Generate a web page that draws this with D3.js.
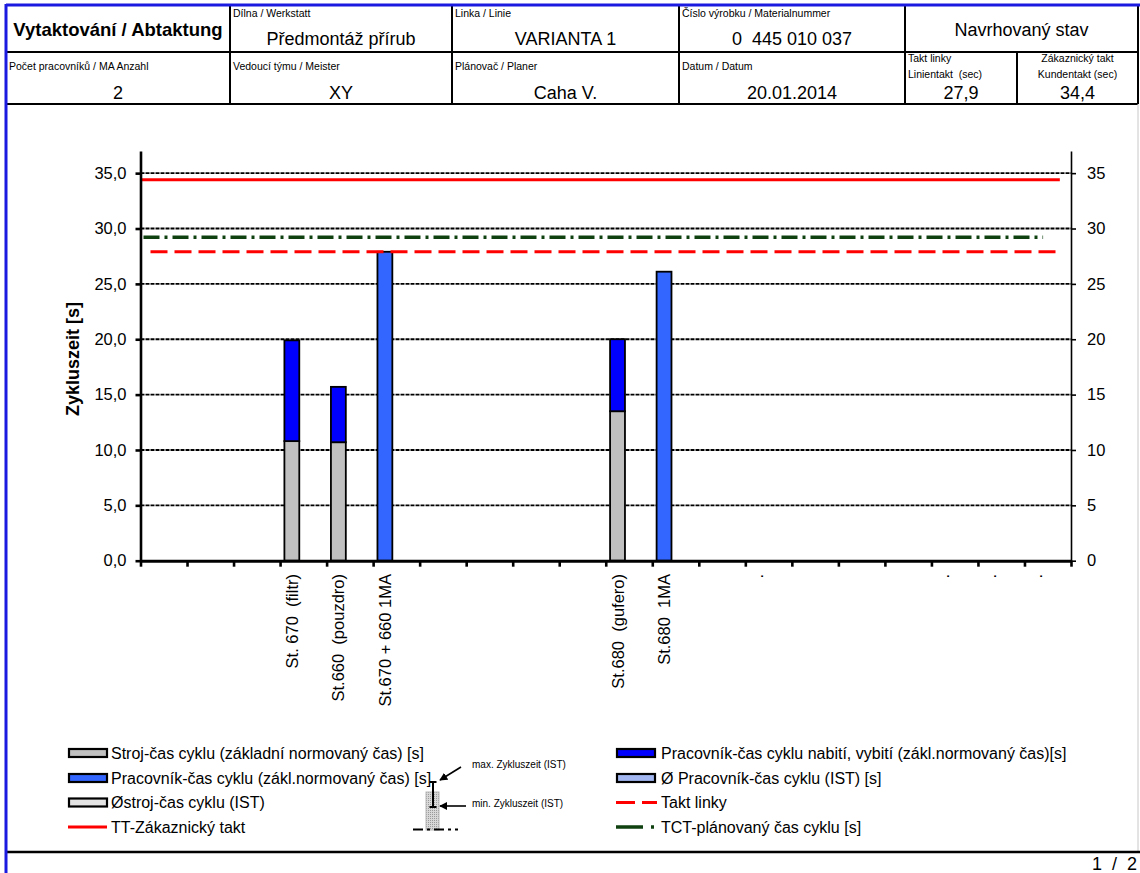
<!DOCTYPE html>
<html><head><meta charset="utf-8">
<script src="https://cdn.jsdelivr.net/npm/d3@7"></script>
<style>
body{margin:0;background:#fff;}
svg{display:block;font-family:"Liberation Sans",Arial,sans-serif;}
text{white-space:pre;}
</style></head><body>
<svg id="c" width="1140" height="873"></svg>
<script>
// ---------- data ----------
const categories = ["", "", "", "St. 670  (filtr)", "St.660  (pouzdro)", "St.670 + 660 1MA", "", "", "", "",
                    "St.680  (gufero)", "St.680  1MA", "", ".", "", "", "", ".", ".", "."];
const machineTime  = [0,0,0,10.8,10.7,0,0,0,0,0,13.5,0,0,0,0,0,0,0,0,0];   // grey
const handlingTime = [0,0,0,9.1,5.0,0,0,0,0,0,6.5,0,0,0,0,0,0,0,0,0];      // pure blue, stacked on grey
const workerTime   = [0,0,0,0,0,27.9,0,0,0,0,0,26.1,0,0,0,0,0,0,0,0];      // blue
const customerTakt = 34.4;
const lineTakt = 27.9;
const plannedCycle = 29.2;
const yTicks = [0,5,10,15,20,25,30,35];
const yMax = 37;

const headerRow1Labels = ["", "Dílna / Werkstatt", "Linka / Linie", "Číslo výrobku / Materialnummer"];
const headerRow1Values = ["Vytaktování / Abtaktung", "Předmontáž přírub", "VARIANTA 1", "0  445 010 037", "Navrhovaný stav"];
const headerRow2Labels = ["Počet pracovníků / MA Anzahl", "Vedoucí týmu / Meister", "Plánovač / Planer", "Datum / Datum"];
const headerRow2Values = ["2", "XY", "Caha V.", "20.01.2014"];
const taktLabels = [["Takt linky", "Linientakt  (sec)"], ["Zákaznický takt", "Kundentakt (sec)"]];
const taktValues = ["27,9", "34,4"];

const legendLeft = [
  {type:"bar", fill:"#C0C0C0", text:"Stroj-čas cyklu (základní normovaný čas) [s]"},
  {type:"bar", fill:"#3366FF", text:"Pracovník-čas cyklu (zákl.normovaný čas) [s]"},
  {type:"bar", fill:"#E4E4E4", text:"Østroj-čas cyklu (IST)"},
  {type:"line", stroke:"#FF0000", text:"TT-Zákaznický takt"}
];
const legendRight = [
  {type:"bar", fill:"#0000FF", text:"Pracovník-čas cyklu nabití, vybití (zákl.normovaný čas)[s]"},
  {type:"bar", fill:"#A3B8F2", text:"Ø Pracovník-čas cyklu (IST) [s]"},
  {type:"dash", stroke:"#FF0000", text:"Takt linky"},
  {type:"dashdot", stroke:"#0F4010", text:"TCT-plánovaný čas cyklu [s]"}
];

// ---------- layout ----------
const svg = d3.select("#c");
const F = "'Liberation Sans', Arial, sans-serif";

// header
const colX = [6, 230, 452, 679, 905, 1017, 1138];
const rowY = [5, 52, 104];
const g = svg.append("g");
g.append("line").attr("x1",6).attr("x2",1138).attr("y1",rowY[1]).attr("y2",rowY[1]).attr("stroke","#000").attr("stroke-width",2);
g.append("line").attr("x1",6).attr("x2",1138).attr("y1",rowY[2]).attr("y2",rowY[2]).attr("stroke","#000").attr("stroke-width",2);
[1,2,3,4,6].forEach(i=>{
  g.append("line").attr("x1",colX[i]).attr("x2",colX[i]).attr("y1",rowY[0]).attr("y2",rowY[2]).attr("stroke","#000").attr("stroke-width",2);
});
g.append("line").attr("x1",colX[5]).attr("x2",colX[5]).attr("y1",rowY[1]).attr("y2",rowY[2]).attr("stroke","#000").attr("stroke-width",2);

g.append("text").attr("x",(colX[0]+colX[1])/2).attr("y",36).attr("text-anchor","middle")
  .attr("font-size",18.5).attr("font-weight","bold").text(headerRow1Values[0]);
for(let i=1;i<=3;i++){
  g.append("text").attr("x",colX[i]+3).attr("y",17).attr("font-size",10.5).text(headerRow1Labels[i]);
  g.append("text").attr("x",(colX[i]+colX[i+1])/2).attr("y",45).attr("text-anchor","middle")
    .attr("font-size",18).text(headerRow1Values[i]);
}
g.append("text").attr("x",(colX[4]+colX[6])/2).attr("y",36).attr("text-anchor","middle")
  .attr("font-size",18).text(headerRow1Values[4]);
for(let i=0;i<=3;i++){
  g.append("text").attr("x",colX[i]+3).attr("y",70).attr("font-size",10.5).text(headerRow2Labels[i]);
  g.append("text").attr("x",(colX[i]+colX[i+1])/2).attr("y",99).attr("text-anchor","middle")
    .attr("font-size",18).text(headerRow2Values[i]);
}
g.append("text").attr("x",colX[4]+3).attr("y",62).attr("font-size",10.5).text(taktLabels[0][0]);
g.append("text").attr("x",colX[4]+3).attr("y",78).attr("font-size",10.5).text(taktLabels[0][1]);
g.append("text").attr("x",(colX[5]+colX[6])/2).attr("y",62).attr("font-size",10.5).attr("text-anchor","middle").text(taktLabels[1][0]);
g.append("text").attr("x",(colX[5]+colX[6])/2).attr("y",78).attr("font-size",10.5).attr("text-anchor","middle").text(taktLabels[1][1]);
g.append("text").attr("x",(colX[4]+colX[5])/2).attr("y",99).attr("text-anchor","middle").attr("font-size",18).text(taktValues[0]);
g.append("text").attr("x",(colX[5]+colX[6])/2).attr("y",99).attr("text-anchor","middle").attr("font-size",18).text(taktValues[1]);

// page frame
svg.append("line").attr("x1",1138).attr("x2",1138).attr("y1",104).attr("y2",852).attr("stroke","#C8C8C8").attr("stroke-width",1);
svg.append("line").attr("x1",6).attr("x2",1140).attr("y1",852).attr("y2",852).attr("stroke","#000").attr("stroke-width",2.5);
svg.append("line").attr("x1",6).attr("x2",1140).attr("y1",5).attr("y2",5).attr("stroke","#1A1AE0").attr("stroke-width",3);
svg.append("line").attr("x1",6).attr("x2",6).attr("y1",4).attr("y2",873).attr("stroke","#1A1AE0").attr("stroke-width",3);
svg.append("text").attr("x",1137).attr("y",870).attr("text-anchor","end").attr("font-size",18).text("1  /  2");

// ---------- chart ----------
const left = 140.5, right = 1071, y0 = 560.7, yTop = 151;
const x = d3.scaleBand().domain(d3.range(categories.length)).range([left,right]).paddingInner(0).paddingOuter(0);
const xLin = d3.scaleLinear().domain([0,categories.length]).range([left,right]);
const y = d3.scaleLinear().domain([0,yMax]).range([y0,yTop]);
const bw = x.bandwidth();
const chart = svg.append("g");

// gridlines
chart.selectAll(".grid").data(yTicks.filter(d=>d>0)).enter().append("line")
  .attr("x1",left).attr("x2",right).attr("y1",d=>y(d)).attr("y2",d=>y(d))
  .attr("stroke","#000").attr("stroke-width",1.9).attr("stroke-dasharray","4,1");

// bars
const barX = i => x(i) + bw*0.093;
const barW = bw*0.32;
chart.selectAll(".m").data(machineTime.map((v,i)=>({v,i})).filter(d=>d.v>0)).enter().append("rect")
  .attr("x",d=>barX(d.i)).attr("width",barW).attr("y",d=>y(d.v)).attr("height",d=>y(0)-y(d.v))
  .attr("fill","#C0C0C0").attr("stroke","#000").attr("stroke-width",1.8);
chart.selectAll(".h").data(handlingTime.map((v,i)=>({v,i,b:machineTime[i]})).filter(d=>d.v>0)).enter().append("rect")
  .attr("x",d=>barX(d.i)).attr("width",barW).attr("y",d=>y(d.b+d.v)).attr("height",d=>y(d.b)-y(d.b+d.v))
  .attr("fill","#0000FF").attr("stroke","#000").attr("stroke-width",1.8);
chart.selectAll(".w").data(workerTime.map((v,i)=>({v,i})).filter(d=>d.v>0)).enter().append("rect")
  .attr("x",d=>barX(d.i)).attr("width",barW).attr("y",d=>y(d.v)).attr("height",d=>y(0)-y(d.v))
  .attr("fill","#3366FF").attr("stroke","#000").attr("stroke-width",1.8);

// reference lines
chart.append("line").attr("x1",left+1).attr("x2",xLin(categories.length-0.24))
  .attr("y1",y(customerTakt)).attr("y2",y(customerTakt)).attr("stroke","#FF0000").attr("stroke-width",3);
chart.append("line").attr("x1",left+3).attr("x2",xLin(categories.length-0.6))
  .attr("y1",y(plannedCycle)).attr("y2",y(plannedCycle)).attr("stroke","#0F4010").attr("stroke-width",3.5)
  .attr("stroke-dasharray","16,5,3,5");
chart.append("line").attr("x1",left+10).attr("x2",xLin(categories.length-0.24))
  .attr("y1",y(lineTakt)).attr("y2",y(lineTakt)).attr("stroke","#FF0000").attr("stroke-width",3)
  .attr("stroke-dasharray","17,7");

// axes
const fmtL = d => d3.format(".1f")(d).replace(".", ",");
const axL = chart.append("g").attr("transform",`translate(${left},0)`)
  .call(d3.axisLeft(y).tickValues(yTicks).tickFormat(fmtL).tickSize(5).tickSizeOuter(0));
axL.select(".domain").attr("stroke-width",2.6);
axL.selectAll(".tick line").attr("stroke-width",2.6);
axL.selectAll("text").attr("font-size",16.5).attr("font-family",F).attr("fill","#000").attr("x",-14);

const axR = chart.append("g").attr("transform",`translate(${right},0)`)
  .call(d3.axisRight(y).tickValues(yTicks).tickFormat(d3.format("d")).tickSize(5).tickSizeOuter(0));
axR.select(".domain").attr("stroke-width",1.6);
axR.selectAll(".tick line").attr("stroke-width",1.6);
axR.selectAll("text").attr("font-size",16.5).attr("font-family",F).attr("fill","#000").attr("x",16);

const axB = chart.append("g").attr("transform",`translate(0,${y0})`)
  .call(d3.axisBottom(xLin).tickValues(d3.range(categories.length+1)).tickFormat("").tickSize(6).tickSizeOuter(0));
axB.select(".domain").attr("stroke-width",3);
axB.selectAll(".tick line").attr("stroke-width",2.6);

// category labels
chart.selectAll(".cl").data(categories.map((c,i)=>({c,i})).filter(d=>d.c)).enter().append("text")
  .attr("transform",d=>`translate(${barX(d.i)+barW/2},574) rotate(-90)`)
  .attr("text-anchor","end").attr("dominant-baseline","central")
  .attr("font-size",16.5).text(d=>d.c);

// y title
svg.append("text").attr("transform","translate(73,359) rotate(-90)").attr("text-anchor","middle")
  .attr("dominant-baseline","central").attr("font-size",18).attr("font-weight","bold").text("Zykluszeit [s]");

// ---------- legend ----------
function drawLegend(items, sx, tx){
  const rowYs = [753, 778, 802.5, 827];
  items.forEach((it,k)=>{
    const yy = rowYs[k];
    if(it.type==="bar"){
      svg.append("rect").attr("x",sx+1).attr("y",yy-4).attr("width",38).attr("height",8)
        .attr("fill",it.fill).attr("stroke","#000").attr("stroke-width",2.2);
    } else if(it.type==="line"){
      svg.append("line").attr("x1",sx).attr("x2",sx+39).attr("y1",yy).attr("y2",yy).attr("stroke",it.stroke).attr("stroke-width",3);
    } else if(it.type==="dash"){
      svg.append("line").attr("x1",sx).attr("x2",sx+41).attr("y1",yy).attr("y2",yy).attr("stroke",it.stroke).attr("stroke-width",3).attr("stroke-dasharray","19,7");
    } else {
      svg.append("line").attr("x1",sx).attr("x2",sx+38).attr("y1",yy).attr("y2",yy).attr("stroke",it.stroke).attr("stroke-width",3.5).attr("stroke-dasharray","27,8,3,10");
    }
    svg.append("text").attr("x",tx).attr("y",yy).attr("dominant-baseline","central").attr("font-size",16).text(it.text);
  });
}
drawLegend(legendLeft, 68, 111);
drawLegend(legendRight, 616, 661);

// small IST diagram
const defs = svg.append("defs");
const pat = defs.append("pattern").attr("id","dots").attr("width",2).attr("height",2).attr("patternUnits","userSpaceOnUse");
pat.append("rect").attr("width",2).attr("height",2).attr("fill","#D8D8D8");
pat.append("rect").attr("width",1).attr("height",1).attr("fill","#9A9A9A");
const mk = defs.append("marker").attr("id","arr").attr("viewBox","0 0 10 10").attr("refX",9).attr("refY",5)
  .attr("markerWidth",5).attr("markerHeight",5).attr("orient","auto");
mk.append("path").attr("d","M0,0 L10,5 L0,10 z").attr("fill","#000");

svg.append("rect").attr("x",426).attr("y",792).attr("width",13).attr("height",38).attr("fill","url(#dots)").attr("stroke","#B8B8B8").attr("stroke-width",1);
svg.append("line").attr("x1",433).attr("x2",433).attr("y1",782).attr("y2",807).attr("stroke","#000").attr("stroke-width",2);
svg.append("line").attr("x1",429.5).attr("x2",436.5).attr("y1",782).attr("y2",782).attr("stroke","#000").attr("stroke-width",2);
svg.append("line").attr("x1",429.5).attr("x2",436.5).attr("y1",807).attr("y2",807).attr("stroke","#000").attr("stroke-width",2);
svg.append("line").attr("x1",413).attr("x2",458).attr("y1",829.5).attr("y2",829.5).attr("stroke","#000").attr("stroke-width",2).attr("stroke-dasharray","10,4,3,4");
svg.append("line").attr("x1",461).attr("x2",440).attr("y1",767).attr("y2",780).attr("stroke","#000").attr("stroke-width",1.6).attr("marker-end","url(#arr)");
svg.append("line").attr("x1",466).attr("x2",440).attr("y1",806).attr("y2",806).attr("stroke","#000").attr("stroke-width",1.6).attr("marker-end","url(#arr)");
svg.append("text").attr("x",472).attr("y",764).attr("dominant-baseline","central").attr("font-size",10).text("max. Zykluszeit (IST)");
svg.append("text").attr("x",472).attr("y",803).attr("dominant-baseline","central").attr("font-size",10).text("min. Zykluszeit (IST)");
</script>
</body></html>
